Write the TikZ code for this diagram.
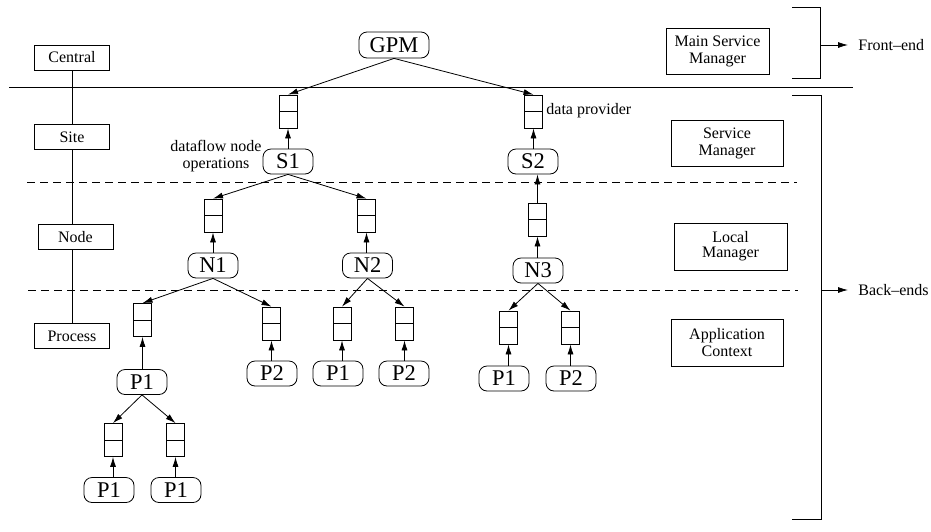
\documentclass[tikz,border=0pt]{standalone}
\usepackage{fontspec}
\setmainfont{Liberation Serif}
\usetikzlibrary{arrows.meta}
\begin{document}
\begin{tikzpicture}[x=1pt, y=-1pt, line width=0.8pt,
  proc/.style={draw, rounded corners=8pt, minimum width=50pt, minimum height=25pt, inner sep=0pt, font=\fontsize{22.5}{24}\selectfont},
  queue/.style={draw, minimum width=18pt, minimum height=33pt, inner sep=0pt,
    path picture={\draw (path picture bounding box.west) -- (path picture bounding box.east);}},
  level/.style={draw, minimum width=75pt, minimum height=25pt, inner sep=0pt, font=\fontsize{16}{18}\selectfont},
  role/.style={draw, minimum height=46pt, inner sep=0pt, align=center, font=\fontsize{16}{17}\selectfont},
  lbl/.style={inner sep=0pt, font=\fontsize{16}{17}\selectfont},
  arrow/.style={-{Latex[length=10pt,width=6pt]}},
  sep/.style={dash pattern=on 8pt off 5pt}
]
  \useasboundingbox (0,0) rectangle (931,531);

  % levels on the left
  \node[level] (central) at (72,57.5) {Central};
  \node[level] (site) at (72,137) {Site};
  \node[level] (nodelvl) at (75.5,237) {Node};
  \node[level] (process) at (72,336) {Process};
  \draw (central.south) -- (site.north);
  \draw (site.south) -- (site.south |- nodelvl.north);
  \draw (site.south |- nodelvl.south) -- (process.north);

  % separators
  \draw (9,87) -- (853,87);
  \draw[sep] (27,182) -- (797,182);
  \draw[sep] (28,290) -- (798,290);

  % tree
  \node[proc, minimum width=70pt, minimum height=26pt] (gpm) at (394,45) {GPM};
  \node[queue] (qs1) at (288,111.5) {};
  \node[queue] (qs2) at (533.5,111.5) {};
  \node[proc] (s1) at (288,161.5) {S1};
  \node[proc] (s2) at (533,161.5) {S2};
  \node[queue] (qn1) at (213,215.5) {};
  \node[queue] (qn2) at (366.5,215.5) {};
  \node[queue] (qn3) at (537.5,219.5) {};
  \node[proc] (n1) at (213,265.5) {N1};
  \node[proc] (n2) at (367.5,265.5) {N2};
  \node[proc] (n3) at (538,270.5) {N3};
  \node[queue] (qp11) at (142.5,320) {};
  \node[queue] (qp12) at (271.5,323.5) {};
  \node[queue] (qp21) at (342,323.5) {};
  \node[queue] (qp22) at (404.5,323.5) {};
  \node[queue] (qp31) at (508.5,327.5) {};
  \node[queue] (qp32) at (570.5,327.5) {};
  \node[proc] (p11) at (142,382) {P1};
  \node[proc] (p12) at (272,373.5) {P2};
  \node[proc] (p21) at (338,373.5) {P1};
  \node[proc] (p22) at (404,373.5) {P2};
  \node[proc] (p31) at (504,378.5) {P1};
  \node[proc] (p32) at (571,378.5) {P2};
  \node[queue] (qp111) at (113,440) {};
  \node[queue] (qp112) at (175.5,440) {};
  \node[proc] (p111) at (109,490) {P1};
  \node[proc] (p112) at (176,490) {P1};

  \node[lbl, align=center] (dfop) at (216,156) {dataflow node\\operations};
  \node[lbl, anchor=west] (dprov) at (546,111) {data provider};

  \draw[arrow] (gpm.south) -- (qs1.north);
  \draw[arrow] (gpm.south) -- (qs2.north);
  \draw[arrow] (s1.south) -- (qn1.north);
  \draw[arrow] (s1.south) -- (qn2.north);
  \draw[arrow] (qn3.north) -- (qn3.north |- s2.south);
  \foreach \p/\c in {n1/qp11, n1/qp12, n2/qp21, n2/qp22, n3/qp31, n3/qp32, p11/qp111, p11/qp112}
    \draw[arrow] (\p.south) -- (\c.north);
  \foreach \p/\q in {s1/qs1, s2/qs2, n1/qn1, n2/qn2, n3/qn3, p11/qp11, p12/qp12, p21/qp21, p22/qp22, p31/qp31, p32/qp32, p111/qp111, p112/qp112}
    \draw[arrow] (\q.south |- \p.north) -- (\q.south);

  % roles on the right
  \node[role, minimum width=103pt] (msm) at (717.5,51) {Main Service\\Manager};
  \node[role, minimum width=112pt] (sm) at (727,143) {Service\\Manager};
  \node[role, minimum width=113pt, minimum height=47pt, font=\fontsize{16}{15}\selectfont] (lm) at (730.5,246.5) {Local\\Manager};
  \node[role, minimum width=112pt, minimum height=47pt] (ac) at (727,342.5) {Application\\Context};

  % front-end / back-ends
  \draw (792,7) -- (820,7) -- (820,78) -- (792,78);
  \draw (792,95) -- (821,95) -- (821,519) -- (792,519);
  \coordinate (fe) at (820,45);
  \coordinate (be) at (821,290);
  \node[lbl, anchor=west] (frontend) at (858,45) {Front--end};
  \node[lbl, anchor=west] (backends) at (858,290) {Back--ends};
  \draw[arrow] (fe) -- ([xshift=-10pt]frontend.west);
  \draw[arrow] (be) -- ([xshift=-10pt]backends.west);
\end{tikzpicture}
\end{document}
